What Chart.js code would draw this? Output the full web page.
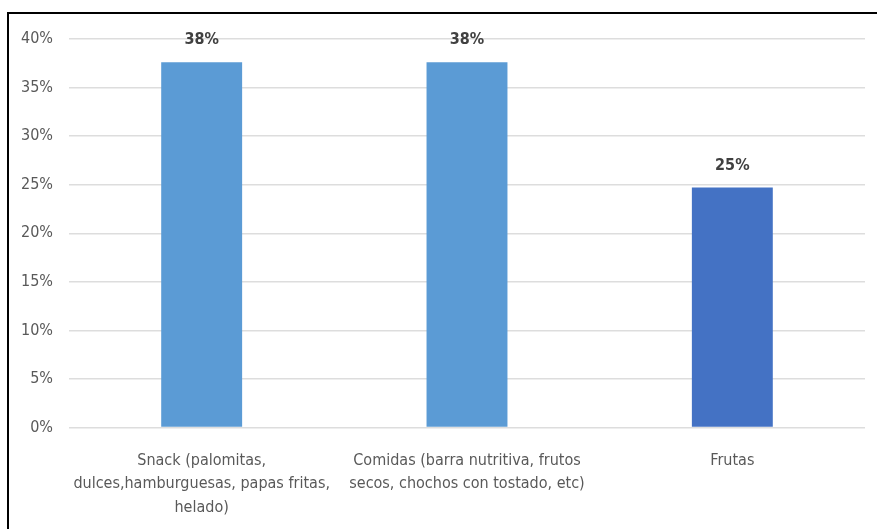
<!DOCTYPE html>
<html>
<head>
<meta charset="utf-8">
<script src="https://cdn.jsdelivr.net/npm/chart.js@4/dist/chart.umd.min.js"></script>
<style>
  html, body { margin: 0; padding: 0; background: #fff; }
  body { width: 877px; height: 529px; position: relative; overflow: hidden; }
  #frame { position: absolute; left: 7px; top: 12px; right: 0; bottom: 0; border-top: 2px solid #000; border-left: 2px solid #000; }
  #wrap { position: absolute; left: 0; top: 0; width: 877px; height: 529px; }
</style>
</head>
<body>
<div id="frame"></div>
<div id="wrap"><canvas id="chart" width="877" height="529"></canvas></div>
<script>
// categories and values (percent)
const categories = [
  ['Snack (palomitas,', 'dulces,hamburguesas, papas fritas,', 'helado)'],
  ['Comidas (barra nutritiva, frutos', 'secos, chochos con tostado, etc)'],
  'Frutas'
];
const values = [37.6, 37.6, 24.7];
const barColors = ['#5B9BD5', '#5B9BD5', '#4472C4'];
const yTicks = [0, 5, 10, 15, 20, 25, 30, 35, 40];

const FONT = '"Liberation Sans Narrow", "DejaVu Sans Condensed", sans-serif';

// draw value labels above bars
const valueLabels = {
  id: 'valueLabels',
  afterDatasetsDraw(chart) {
    const ctx = chart.ctx;
    const meta = chart.getDatasetMeta(0);
    ctx.save();
    ctx.font = 'bold 16px ' + FONT;
    ctx.fillStyle = '#404040';
    ctx.textAlign = 'center';
    ctx.textBaseline = 'middle';
    meta.data.forEach((bar, i) => {
      ctx.fillText(Math.round(values[i]) + '%', bar.x, bar.y - 22);
    });
    ctx.restore();
  }
};

new Chart(document.getElementById('chart'), {
  type: 'bar',
  data: {
    labels: categories,
    datasets: [{
      data: values,
      backgroundColor: barColors,
      borderWidth: 0,
      categoryPercentage: 1,
      barPercentage: 0.305
    }]
  },
  options: {
    responsive: false,
    animation: false,
    layout: { padding: { left: 0, right: 12, top: 39, bottom: 0 } },
    plugins: { legend: { display: false }, tooltip: { enabled: false } },
    scales: {
      x: {
        grid: { display: false, drawTicks: false },
        border: { display: false },
        ticks: {
          color: '#595959',
          font: { family: FONT, size: 16, lineHeight: 1.45 },
          padding: 22,
          maxRotation: 0,
          autoSkip: false
        },
        afterFit(scale) { scale.height = 101.5; }
      },
      y: {
        min: 0,
        max: 40,
        afterBuildTicks(scale) { scale.ticks = yTicks.map(v => ({ value: v })); },
        grid: { color: '#DDDDDD', lineWidth: 1.5, drawTicks: false },
        border: { display: false },
        ticks: {
          color: '#595959',
          font: { family: FONT, size: 16 },
          padding: 16,
          callback: v => v + '%'
        },
        afterFit(scale) { scale.width = 69; }
      }
    }
  },
  plugins: [valueLabels]
});
</script>
</body>
</html>
